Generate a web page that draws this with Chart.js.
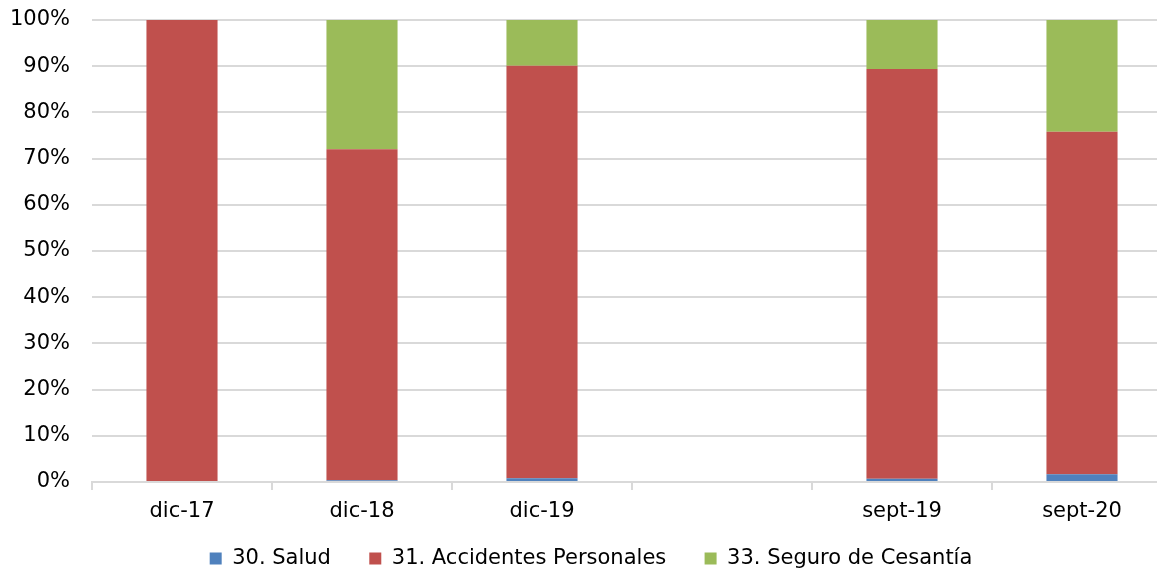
<!DOCTYPE html>
<html>
<head>
<meta charset="utf-8">
<script src="https://cdn.jsdelivr.net/npm/chart.js@4/dist/chart.umd.min.js"></script>
<style>
  html, body { margin: 0; padding: 0; background: #fff; overflow: hidden; }
  #wrap { position: relative; width: 1216px; height: 579px; }
</style>
</head>
<body>
<div id="wrap"><canvas id="mix"></canvas></div>
<script>
// periods (one empty slot between the december and september groups)
var periods = ['dic-17', 'dic-18', 'dic-19', '', 'sept-19', 'sept-20'];

// share of each branch, in %
var salud       = [0,   0.4, 0.8, null, 0.7, 1.7];
var accidentes  = [100, 71.6, 89.3, null, 88.7, 74.1];
var cesantia    = [0,   28.0, 9.9, null, 10.6, 24.2];

var seriesNames = ['30. Salud', '31. Accidentes Personales', '33. Seguro de Cesantía'];
var yTicks = [0, 10, 20, 30, 40, 50, 60, 70, 80, 90, 100];

var colors = {
    blue: '#4f81bd',
    red: '#c0504d',
    green: '#9bbb59',
    grid: '#d9d9d9'
};

Chart.defaults.font.family = '"DejaVu Sans", Verdana, sans-serif';
Chart.defaults.color = '#000';

function barSet(label, data, color){
    return {
        label: label,
        data: data,
        backgroundColor: color,
        borderWidth: 0,
        barPercentage: 0.395,
        categoryPercentage: 1
    };
}

// default legend items, with a little extra room after the first two
function legendItems(chart){
    var items = Chart.defaults.plugins.legend.labels.generateLabels(chart);
    items.forEach(function(it, i){
        if(i < items.length - 1) it.text = it.text + '\u00a0\u00a0';
    });
    return items;
}

var cfg = {
    type: 'bar',
    data: {
        labels: periods,
        datasets: [
            barSet(seriesNames[0], salud, colors.blue),
            barSet(seriesNames[1], accidentes, colors.red),
            barSet(seriesNames[2], cesantia, colors.green)
        ]
    },
    options: {
        responsive: true,
        maintainAspectRatio: false,
        animation: false,
        layout: { padding: { top: 20, right: 44, left: 10, bottom: 0 } },
        plugins: {
            tooltip: { enabled: false },
            legend: {
                position: 'bottom',
                labels: {
                    boxWidth: 12,
                    boxHeight: 12,
                    padding: 25,
                    font: { size: 21 },
                    color: '#000',
                    generateLabels: legendItems
                }
            }
        },
        scales: {
            x: {
                stacked: true,
                afterFit: function(s){ s.height = 41; },
                border: { color: colors.grid, width: 2 },
                grid: {
                    offset: true,
                    drawOnChartArea: false,
                    drawTicks: true,
                    tickLength: 8,
                    color: colors.grid,
                    lineWidth: 2
                },
                ticks: { font: { size: 21, lineHeight: 0.9 }, padding: 12, maxRotation: 0 }
            },
            y: {
                stacked: true,
                min: 0,
                max: 100,
                afterFit: function(s){
                    s.width = 82;
                    // labels sit on the gridlines; no extra room above/below
                    s.paddingTop = 0;
                    s.paddingBottom = 0;
                },
                afterBuildTicks: function(s){ s.ticks = yTicks.map(function(v){ return { value: v }; }); },
                border: { display: false },
                grid: { color: colors.grid, lineWidth: 2, drawTicks: false },
                ticks: {
                    font: { size: 21 },
                    padding: 22,
                    callback: function(v){ return v + '%'; }
                }
            }
        }
    }
};

new Chart(document.getElementById('mix').getContext('2d'), cfg);
</script>
</body>
</html>
